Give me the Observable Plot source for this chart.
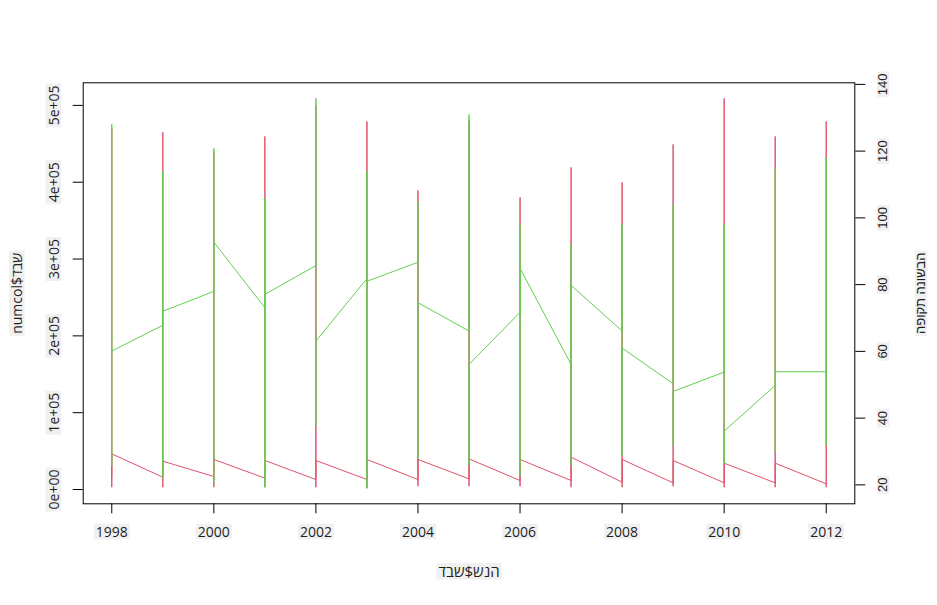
<!DOCTYPE html>
<html>
<head>
<meta charset="utf-8">
<script src="https://cdn.jsdelivr.net/npm/d3@7"></script>
<script src="https://cdn.jsdelivr.net/npm/@observablehq/plot@0.6"></script>
<style>
  html, body { margin: 0; padding: 0; background: #fff; }
  svg { display: block; }
</style>
</head>
<body>
<script>
// ---- data ----
const years = [1998, 1999, 2000, 2001, 2002, 2003, 2004, 2005, 2006, 2007, 2008, 2009, 2010, 2011, 2012];

// left axis series (red): numcol$דבש
const honeyFirst = [16000, 16100, 16900, 14800, 13000, 13000, 13000, 13900, 11700, 11700, 9600, 8700, 8700, 8700, 7400];
const honeyMax   = [470000, 464900, 440000, 459600, 500000, 479200, 389300, 480000, 380200, 419300, 399700, 449200, 509100, 459600, 479200];
const honeyMin   = [3000, 3000, 3000, 3000, 3000, 1700, 4300, 4300, 4300, 3000, 3000, 4300, 3000, 3000, 3000];
const honeyLast  = [46400, 36900, 39100, 37800, 37800, 39100, 39100, 39900, 39100, 42100, 39100, 37800, 34300, 34300, 7400];

// right axis series (green)
const yieldFirst = [60.1, 67.8, 78.0, 73.1, 85.7, 81.8, 86.7, 66.1, 71.7, 56.1, 66.1, 50.3, 53.8, 49.8, 53.9];
const yieldMax   = [128.0, 113.9, 120.8, 105.9, 135.8, 113.9, 104.9, 131.0, 98.0, 92.1, 98.0, 104.0, 98.0, 114.8, 117.9];
const yieldMin   = [25.8, 22.1, 20.8, 19.3, 37.8, 19.0, 27.8, 25.8, 22.8, 25.8, 28.8, 31.8, 26.3, 29.8, 31.8];
const yieldLast  = [60.1, 72.0, 92.7, 77.1, 63.1, 81.0, 74.6, 56.1, 84.9, 79.8, 61.0, 48.0, 36.1, 53.9, 53.9];

const xTicks = [1998, 2000, 2002, 2004, 2006, 2008, 2010, 2012];
const leftTicks = [0, 100000, 200000, 300000, 400000, 500000];
const leftTickLabels = ["0e+00", "1e+05", "2e+05", "3e+05", "4e+05", "5e+05"];
const rightTicks = [20, 40, 60, 80, 100, 120, 140];

const xTitle = "דבש$שנה";
const leftTitle = "numcol$דבש";
const rightTitle = "הבשונה תקופה";

// ---- build ----
function rExtend(vals) {            // R-style 4% axis extension
  const [a, b] = d3.extent(vals);
  const r = b - a;
  return [a - 0.04 * r, b + 0.04 * r];
}
function seq(first, max, min, last) {
  const out = [];
  years.forEach((yr, i) => {
    out.push({x: yr, v: first[i]}, {x: yr, v: max[i]}, {x: yr, v: min[i]}, {x: yr, v: last[i]});
  });
  return out;
}
const redPts = seq(honeyFirst, honeyMax, honeyMin, honeyLast);
const greenPts = seq(yieldFirst, yieldMax, yieldMin, yieldLast);

const xDomain = rExtend(years);
const leftDomain = rExtend(redPts.map(d => d.v));
const rightDomain = rExtend(greenPts.map(d => d.v));
const toLeft = d3.scaleLinear().domain(rightDomain).range(leftDomain);

const red = "#DF536B", green = "#61D04F", ink = "#1e1e1e";
const mid = {textAnchor: "middle", lineAnchor: "middle", fill: ink};

const svg = Plot.plot({
  width: 937,
  height: 605,
  marginLeft: 82.7,
  marginRight: 82.7,
  marginTop: 82.3,
  marginBottom: 101.7,
  style: {fontFamily: "'Open Sans', sans-serif", fontSize: "14px", color: "#000", background: "#fff"},
  x: {domain: xDomain},
  y: {domain: leftDomain},
  marks: [
    Plot.line(redPts, {x: "x", y: "v", stroke: red, strokeWidth: 1}),
    Plot.line(greenPts, {x: "x", y: d => toLeft(d.v), stroke: green, strokeWidth: 1}),
    Plot.frame({stroke: "#000", strokeWidth: 1}),
    Plot.axisX({ticks: xTicks, tickSize: 10, tickFormat: () => "", label: null}),
    Plot.axisY({anchor: "left", ticks: leftTicks, tickSize: 10, tickFormat: () => "", label: null}),
    Plot.axisY({anchor: "right", ticks: rightTicks.map(toLeft), tickSize: 10, tickFormat: () => "", label: null}),
    Plot.text(xTicks, {x: d => d, frameAnchor: "bottom", dy: 28.5, text: d => String(d), fontSize: 14, ...mid}),
    Plot.text(leftTicks, {y: d => d, frameAnchor: "left", dx: -29, rotate: -90, text: (d, i) => leftTickLabels[i], fontSize: 14, ...mid}),
    Plot.text(rightTicks, {y: d => toLeft(d), frameAnchor: "right", dx: 28.5, rotate: -90, text: d => String(d), fontSize: 13, fontFamily: "'Liberation Sans', Arial, sans-serif", ...mid}),
    Plot.text([xTitle], {frameAnchor: "bottom", dy: 68.5, text: d => d, fontSize: 15, className: "ltr-glyphs", ...mid}),
    Plot.text([leftTitle], {frameAnchor: "left", dx: -65.5, rotate: -90, text: d => d, fontSize: 14, className: "ltr-glyphs", ...mid}),
    Plot.text([rightTitle], {frameAnchor: "right", dx: 66.5, rotate: -90, text: d => d, fontSize: 13, fontFamily: "'Liberation Sans', 'DejaVu Sans', sans-serif", ...mid})
  ]
});
document.body.append(svg);

// the reference lays Hebrew glyphs out in plain left-to-right order (no bidi reordering)
svg.querySelectorAll("g.ltr-glyphs text").forEach(t => {
  t.setAttribute("direction", "ltr");
  t.setAttribute("unicode-bidi", "bidi-override");
  t.style.direction = "ltr";
  t.style.unicodeBidi = "bidi-override";
});

// light gray label backgrounds, as in the reference
svg.querySelectorAll("text").forEach(t => {
  if (!t.textContent.trim()) return;
  const b = t.getBBox();
  const r = document.createElementNS("http://www.w3.org/2000/svg", "rect");
  r.setAttribute("x", b.x - 2);
  r.setAttribute("y", b.y + b.height * 0.1);
  r.setAttribute("width", b.width + 4);
  r.setAttribute("height", b.height * 0.82);
  r.setAttribute("fill", "#f0f0f0");
  r.setAttribute("stroke", "none");
  const tr = t.getAttribute("transform");
  if (tr) r.setAttribute("transform", tr);
  t.parentNode.insertBefore(r, t);
});
</script>
</body>
</html>
